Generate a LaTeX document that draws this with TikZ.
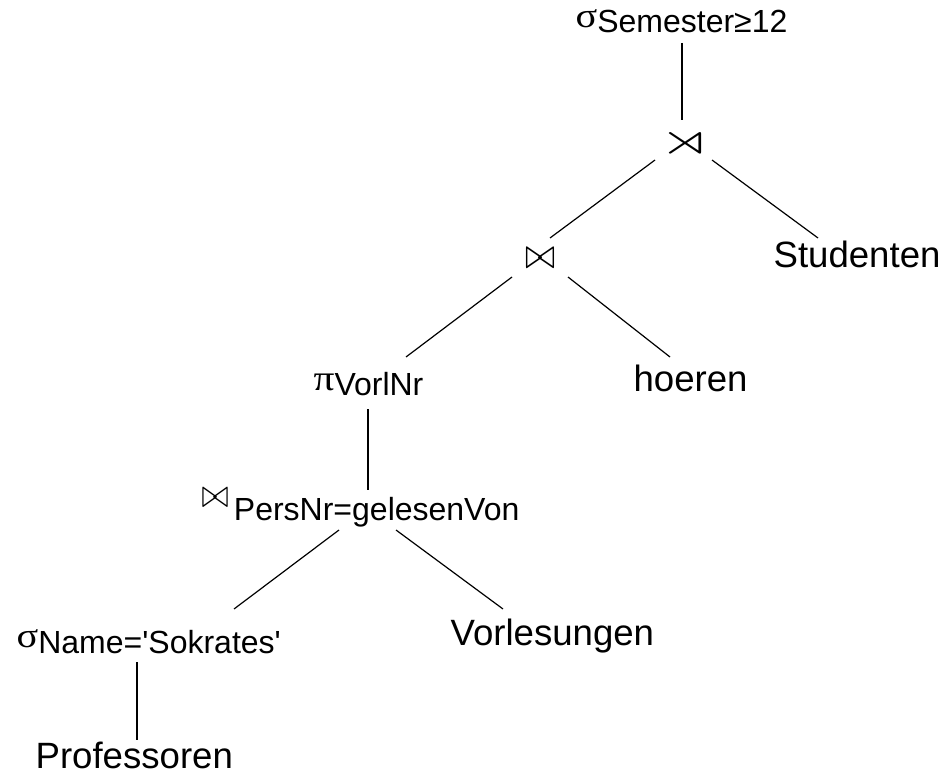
\documentclass[tikz,border=0pt]{standalone}
\usepackage{amssymb,graphicx}
\usepackage{fontspec}
\setmainfont{Liberation Sans}
\newfontfamily\subfont{Liberation Sans}
\newfontfamily\grkfont{Liberation Serif}
\usetikzlibrary{calc}
\newcommand{\grk}[2]{{\grkfont\fontsize{#1}{40}\selectfont\scalebox{1.15}[1]{#2}}}
\newcommand{\opsym}[3]{\resizebox{#1pt}{#2pt}{$#3$}}
\newcommand{\lowsub}[2]{\raisebox{-#1pt}{\subfont\fontsize{32}{34}\selectfont #2}}

\begin{document}
\begin{tikzpicture}[x=1pt,y=-1pt,
    relname/.style={inner sep=0pt,anchor=base west,font=\fontsize{36.6}{40}\selectfont},
    algop/.style={inner sep=0pt},
    every path/.style={line width=1.2pt}]
    \useasboundingbox (0,0) rectangle (947,775);
    % operators and relations
    \node[relname] (sel1) at (575,28) {\grk{35}{σ}\lowsub{5}{Semester≥12}};
    \node[algop] (semi) at (685,143) {\opsym{52}{26}{\rtimes}};
    \node[algop] (join1) at (540,259) {\opsym{30}{20}{\bowtie}};
    \node[relname] (stud) at (773,268) {Studenten};
    \node[relname] (proj) at (313,390) {\grk{36}{π}\lowsub{5}{VorlNr}};
    \node[relname] (hoer) at (633,391) {hoeren};
    \node[relname] (join2) at (201,520) {\raisebox{13pt}{\opsym{27}{19}{\bowtie}}\subfont\fontsize{32}{34}\selectfont\,PersNr=gelesenVon};
    \node[relname] (sel2) at (16,647) {\grk{35}{σ}\lowsub{6}{Name='Sokrates'}};
    \node[relname] (vorl) at (450,645) {Vorlesungen};
    \node[relname] (prof) at (35,768) {Professoren};
    % tree edges
    \draw ($(sel1.base west)+(107,15)$) -- ($(semi)+(-3,-23)$);
    \draw ($(semi)+(-30,17)$) -- ($(join1)+(10,-21)$);
    \draw ($(semi)+(27,17)$) -- ($(stud.base west)+(45,-30)$);
    \draw ($(join1)+(-28,18)$) -- ($(proj.base west)+(93,-33)$);
    \draw ($(join1)+(28,18)$) -- ($(hoer.base west)+(37,-34)$);
    \draw ($(proj.base west)+(55,19)$) -- ($(join2.base west)+(167,-30)$);
    \draw ($(join2.base west)+(138,10)$) -- ($(sel2.base west)+(218,-38)$);
    \draw ($(join2.base west)+(195,10)$) -- ($(vorl.base west)+(53,-36)$);
    \draw ($(sel2.base west)+(121,15)$) -- ($(prof.base west)+(102,-28)$);
\end{tikzpicture}
\end{document}
